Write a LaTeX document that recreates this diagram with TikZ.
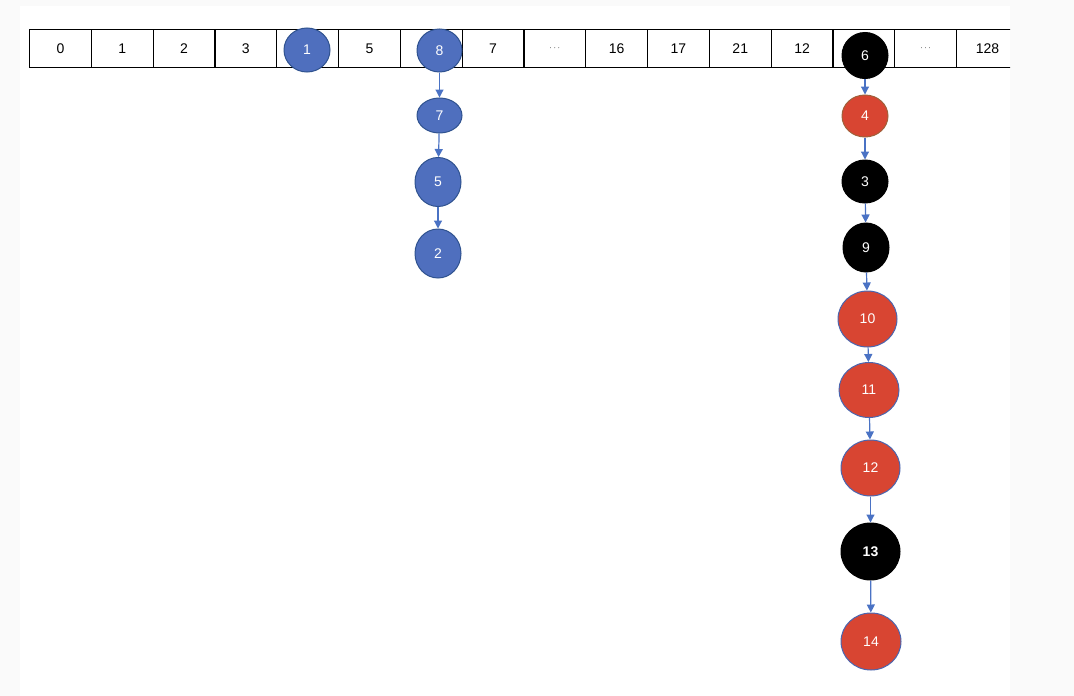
\documentclass[tikz,border=0pt]{standalone}
\usepackage{fontspec}
\setmainfont{Liberation Sans}
\usetikzlibrary{shapes.geometric,arrows.meta}
\definecolor{bgc}{HTML}{FAFAFA}
\definecolor{nblue}{HTML}{4F6FBE}
\definecolor{nblueb}{HTML}{2F528F}
\definecolor{nred}{HTML}{D84532}
\definecolor{nredb}{HTML}{4A66B0}
\definecolor{nbrown}{HTML}{A0603A}
\definecolor{arrc}{HTML}{4A72C4}
\begin{document}
\begin{tikzpicture}[x=1pt,y=-1pt,
  cell/.style={draw=black, line width=1.1pt, minimum width=61.8pt, minimum height=38pt,
    inner sep=0pt, anchor=north west, font=\fontsize{14}{16}\selectfont},
  circ/.style={ellipse, inner sep=0pt, line width=1pt, text=white,
    font=\fontsize{14}{16}\selectfont},
  bnode/.style={circ, fill=nblue, draw=nblueb},
  rnode/.style={circ, fill=nred, draw=nredb},
  knode/.style={circ, fill=black, draw=black},
  sz/.style 2 args={minimum width=#1pt, minimum height=#2pt},
  arr/.style={draw=arrc, line width=1.2pt, -{Triangle[length=8pt,width=8pt]}}]
\fill[bgc] (0,0) rectangle (1074,696);
\fill[white] (20,6) rectangle (1010,696);
\useasboundingbox (0,0) rectangle (1074,696);
\begin{scope}
\clip (0,0) rectangle (1010,696);
\foreach \t [count=\i from 0] in {0,1,2,3,{},5,{},7,{\fontsize{9}{10}\selectfont$\cdots$},16,17,21,12,{},{\fontsize{9}{10}\selectfont$\cdots$},128}
  {\node[cell] (c\i) at (29+\i*61.8,29) {\t};}
\end{scope}
% blue chain
\node[bnode, sz={46}{44}] (n1) at (307,50) {1};
\node[bnode, sz={45}{43}] (n8) at (439.5,50.5) {8};
\node[bnode, sz={45}{35}] (n7) at (439.5,115.5) {7};
\node[bnode, sz={46}{49}] (n5) at (438,182) {5};
\node[bnode, sz={46}{49}] (n2) at (438,253.5) {2};
% right chain
\node[knode, sz={46}{46}] (n6) at (865,55.5) {6};
\node[circ, fill=nred, draw=nbrown, sz={46}{42}] (n4) at (865,116) {4};
\node[knode, sz={46}{43}] (n3) at (865,181.5) {3};
\node[knode, sz={46}{49}] (n9) at (866,247.5) {9};
\node[rnode, sz={59}{56}] (n10) at (867.5,319) {10};
\node[rnode, sz={60}{55}] (n11) at (869,390) {11};
\node[rnode, sz={59}{56}] (n12) at (870.5,468) {12};
\node[knode, sz={59}{57}, font=\fontsize{14}{16}\selectfont\bfseries] (n13) at (870.5,551.5) {13};
\node[rnode, sz={60}{57}] (n14) at (871,641.5) {14};
% connectors
\draw[arr] (n8) -- (n7);
\draw[arr] (n7) -- (n5);
\draw[arr] (n5) -- (n2);
\draw[arr] (n6) -- (n4);
\draw[arr] (n4) -- (n3);
\draw[arr] (n3) -- (n9);
\draw[arr] (n9) -- (n10);
\draw[arr] (n10) -- (n11);
\draw[arr] (n11) -- (n12);
\draw[arr] (n12) -- (n13);
\draw[arr] (n13) -- (n14);
\end{tikzpicture}
\end{document}
